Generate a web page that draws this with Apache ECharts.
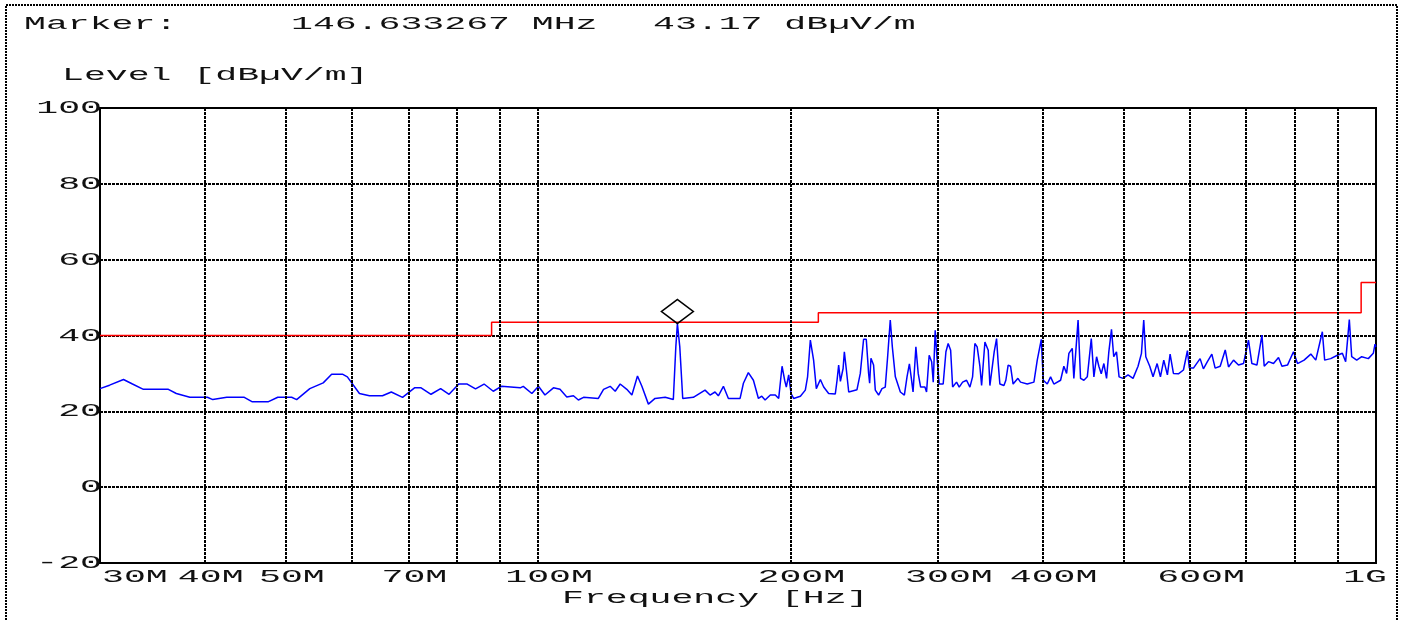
<!DOCTYPE html>
<html><head><meta charset="utf-8">
<script src="https://cdn.jsdelivr.net/npm/echarts@6/dist/echarts.min.js"></script>
<style>html,body{margin:0;padding:0;background:#fff}#c{width:1403px;height:620px}</style>
</head><body><div id="c"></div>
<script>
// Measured trace (frequency in MHz, level in dBµV/m)
const freqMHz = [30.0,30.8,32.0,32.8,33.8,36.2,37.0,38.4,40.3,40.9,42.5,44.6,45.6,47.6,48.9,50.8,51.5,53.4,55.4,56.7,58.4,59.2,61.2,62.9,65.2,66.8,68.9,71.2,72.5,74.5,76.5,78.3,80.4,82.3,84.2,86.2,88.4,90.4,95.2,96.0,98.3,100.1,101.9,104.3,106.2,108.2,110.2,111.7,113.3,118.0,119.7,121.9,123.6,125.3,127.6,129.4,131.4,133.0,135.4,137.9,141.8,145.0,146.0,146.633267,147.6,148.8,153.2,158.2,160.4,162.6,164.1,166.4,168.7,174.2,175.8,178.2,180.7,183.2,184.9,186.6,189.3,191.9,193.7,195.5,196.9,197.8,199.1,200.4,201.8,205.6,208.4,209.7,211.3,213.2,214.8,217.2,219.2,222.2,226.3,227.4,228.4,229.5,231.2,232.0,233.3,234.8,240.2,242.4,244.6,246.4,248.0,248.7,249.6,251.4,252.6,254.9,257.3,259.6,261.3,263.2,264.7,266.9,270.6,273.6,275.6,277.4,278.9,280.2,281.6,282.4,284.2,286.1,289.5,290.8,292.9,294.9,296.2,297.8,299.4,301.1,304.4,306.7,308.6,310.7,312.4,315.8,318.1,321.1,324.6,327.6,330.0,332.1,334.2,336.7,338.3,341.4,344.5,346.1,350.2,352.5,354.1,355.7,359.7,361.6,363.9,366.3,368.9,373.8,376.5,383.5,390.6,394.2,398.6,400.8,405.2,408.9,412.6,420.3,424.1,427.3,430.0,434.0,435.9,441.0,444.0,448.1,452.3,454.3,457.3,460.6,464.0,466.9,470.0,473.4,476.9,479.9,483.4,486.4,490.1,493.6,499.0,505.9,512.9,520.0,524.9,528.2,531.2,537.0,541.9,548.0,553.0,558.1,563.7,567.9,573.1,581.0,589.1,595.6,598.8,605.5,616.7,622.3,629.2,636.9,642.7,651.7,660.8,666.8,676.0,685.3,694.8,704.4,711.0,720.9,730.9,735.5,744.2,754.5,765.0,772.2,784.1,797.1,806.0,820.7,836.0,847.5,862.9,868.4,882.9,899.2,911.7,920.0,929.3,935.4,948.4,961.5,979.1,992.6,997.3,1000];
const levelDbuV = [26.0,26.9,28.4,27.2,25.8,25.8,24.7,23.7,23.7,23.1,23.7,23.7,22.5,22.5,23.7,23.7,23.1,26.0,27.5,29.8,29.8,29.1,24.7,24.1,24.1,25.1,23.7,26.2,26.2,24.5,26.0,24.5,27.2,27.2,25.9,27.2,25.3,26.6,26.2,26.6,24.7,26.6,24.3,26.2,25.8,23.8,24.1,23.0,23.7,23.4,25.8,26.6,25.3,27.2,25.8,24.3,29.3,26.6,21.9,23.4,23.7,23.1,37.0,43.17,37.0,23.4,23.7,25.6,24.3,25.1,24.1,26.6,23.4,23.4,27.4,30.2,28.2,23.4,24.0,23.0,24.3,24.3,23.4,31.9,28.2,26.4,29.6,24.7,23.4,24.0,25.6,29.1,38.8,33.5,26.0,28.4,26.4,24.7,24.6,28.2,32.2,27.9,31.3,35.7,30.9,25.1,25.7,30.0,39.0,39.0,30.0,27.4,34.0,32.2,25.6,24.3,26.0,26.4,34.4,44.1,37.0,29.1,25.1,24.3,29.1,32.5,28.7,25.1,32.6,37.0,30.0,26.4,26.4,25.1,34.8,33.1,27.7,41.4,33.6,27.2,27.2,35.7,37.9,36.1,26.4,27.7,26.4,27.7,28.2,26.4,29.1,37.9,37.0,31.9,26.8,38.3,36.1,26.8,35.7,39.2,32.6,27.2,26.8,28.2,32.2,31.9,27.2,28.7,27.7,27.2,27.7,33.5,39.0,28.2,27.2,29.1,27.2,28.2,31.9,30.0,35.3,36.6,28.7,44.1,28.7,28.2,29.1,33.1,39.2,29.1,34.4,31.9,29.9,32.6,28.7,35.7,41.6,34.4,35.7,29.1,28.7,29.6,28.7,31.9,35.3,44.1,34.4,31.9,29.1,32.6,29.1,33.5,29.6,35.1,30.0,29.9,30.9,36.0,31.4,31.4,33.9,31.2,33.1,35.1,31.4,31.9,36.2,31.7,33.5,32.2,32.6,38.8,32.6,32.2,40.1,31.9,33.1,32.6,34.2,31.9,32.2,35.7,32.6,33.5,35.1,33.5,41.0,33.5,33.9,34.8,35.3,33.1,44.2,34.4,33.5,34.4,33.9,35.3,37.7,37.0];
// Limit line (steps)
const limitFreqMHz = [30, 88, 88, 216, 216, 960, 960, 1000];
const limitLevel = [40, 40, 43.5, 43.5, 46, 46, 54, 54];
// Marker
const markerFreq = 146.633267;
const markerLevel = 43.17;
// Axis ticks
const gridFreqMHz = [40, 50, 60, 70, 80, 90, 100, 200, 300, 400, 500, 600, 700, 800, 900];
const xTickValues = [30, 40, 50, 70, 100, 200, 300, 400, 600, 1000];
const xTickLabels = ['30M', '40M', '50M', '70M', '100M', '200M', '300M', '400M', '600M', '1G'];
const yTickValues = [-20, 0, 20, 40, 60, 80, 100];
const yTickLabels = ['-20', '0', '20', '40', '60', '80', '100'];
const headerTexts = ['Marker:', '146.633267 MHz', '43.17 dBµV/m'];
const yTitle = 'Level [dBµV/m]';
const xTitle = 'Frequency [Hz]';

const chart = echarts.init(document.getElementById('c'), null, {renderer: 'canvas'});
const FONT = 'Liberation Mono';
const FS = 19;
const SX = 1.92;
const dotted = {color: '#000', width: 2, type: [3, 1]};

chart.setOption({
  animation: false,
  backgroundColor: '#fff',
  grid: {left: 100, right: 27, top: 108, bottom: 57, show: true, borderColor: '#000', borderWidth: 2, backgroundColor: 'transparent'},
  xAxis: {type: 'log', logBase: 10, min: 30, max: 1000,
    axisLine: {show: false}, axisTick: {show: false}, axisLabel: {show: false}, splitLine: {show: false}},
  yAxis: {type: 'value', min: -20, max: 100, interval: 20,
    axisLine: {show: false}, axisTick: {show: false}, axisLabel: {show: false},
    splitLine: {show: true, lineStyle: dotted}},
  series: [
    {type: 'line', name: 'grid', data: [], silent: true, z: 1,
      markLine: {silent: true, symbol: ['none', 'none'], label: {show: false}, lineStyle: dotted,
        emphasis: {disabled: true}, animation: false,
        data: gridFreqMHz.map(f => ({xAxis: f}))}},
    {type: 'line', name: 'Limit', z: 3, showSymbol: false, silent: true,
      data: limitFreqMHz.map((f, i) => [f, limitLevel[i]]),
      lineStyle: {color: '#ff0000', width: 1.5}},
    {type: 'line', name: 'Level', z: 4, showSymbol: false, silent: true,
      data: freqMHz.map((f, i) => [f, levelDbuV[i]]),
      lineStyle: {color: '#0000ff', width: 1.5},
      markPoint: {silent: true, symbol: 'diamond', symbolSize: [32, 24], symbolOffset: [0, '-50%'],
        itemStyle: {color: 'rgba(255,255,255,0)', borderColor: '#000', borderWidth: 1.5},
        label: {show: false},
        data: [{coord: [markerFreq, markerLevel]}]}}
  ]
});

function txt(text, x, y, align) {
  return {type: 'text', x: x, y: y, scaleX: SX, silent: true, z: 10,
    style: {text: text, x: 0, y: 0, align: align, verticalAlign: 'middle',
      fontFamily: FONT, fontSize: FS, fill: '#111'}};
}
const gfx = [];
gfx.push({type: 'rect', silent: true, z: 0, shape: {x: 6, y: 5, width: 1391, height: 700},
  style: {fill: 'none', stroke: '#000', lineWidth: 2, lineDash: [2, 1]}});
gfx.push(txt(headerTexts[0], 24, 23.5, 'left'));
gfx.push(txt(headerTexts[1], 291, 23.5, 'left'));
gfx.push(txt(headerTexts[2], 653, 23.5, 'left'));
gfx.push(txt(yTitle, 62, 75, 'left'));
gfx.push(txt(xTitle, 562, 598, 'left'));
xTickValues.forEach((v, i) => {
  const p = chart.convertToPixel({gridIndex: 0}, [v, -20]);
  const lab = xTickLabels[i];
  if (i === 0) gfx.push(txt(lab, p[0] + 2, 577, 'left'));
  else if (i === xTickValues.length - 1) gfx.push(txt(lab, p[0] + 11, 577, 'right'));
  else gfx.push(txt(lab, p[0] + 6 + (lab.length - 3) * 5, 577, 'center'));
});
yTickValues.forEach((v, i) => {
  const p = chart.convertToPixel({gridIndex: 0}, [30, v]);
  gfx.push(txt(yTickLabels[i], p[0] + 2, p[1], 'right'));
});
chart.setOption({graphic: gfx});
</script></body></html>
